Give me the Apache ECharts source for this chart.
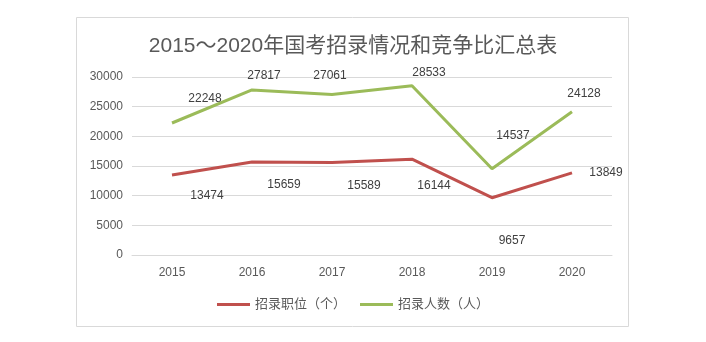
<!DOCTYPE html>
<html><head><meta charset="utf-8">
<script src="https://cdn.jsdelivr.net/npm/echarts@6/dist/echarts.min.js"></script>
<style>html,body{margin:0;padding:0;background:#fff}#c{width:706px;height:342px}</style>
</head><body><div id="c"></div>
<script>
const years = ['2015','2016','2017','2018','2019','2020'];
const positions = [13474, 15659, 15589, 16144, 9657, 13849];
const applicants = [22248, 27817, 27061, 28533, 14537, 24128];
const yTicks = [0, 5000, 10000, 15000, 20000, 25000, 30000];

const redOff = [[35,21],[32,23],[32,23],[22,26],[20,43],[34,0]];
const greenOff = [[33,-24],[12,-14],[-2,-19],[17,-13],[21,-33],[12,-18]];
const font = '"Liberation Sans","Noto Sans CJK SC",sans-serif';
function mk(vals, offs){
  return vals.map((v,i)=>({value:v,label:{offset:offs[i]}}));
}
const chart = echarts.init(document.getElementById('c'));
chart.setOption({
  animation:false,
  graphic:[{type:'rect',shape:{x:76.5,y:17.5,width:552,height:309},style:{fill:'none',stroke:'#d9d9d9',lineWidth:1},silent:true}],
  title:{text:'2015～2020年国考招录情况和竞争比汇总表',left:'center',top:31,
    textStyle:{fontFamily:font,fontSize:21,fontWeight:'normal',color:'#595959'}},
  legend:{bottom:26,left:'center',itemWidth:33,itemHeight:3,itemGap:14,icon:'rect',
    textStyle:{fontFamily:font,fontSize:13,color:'#595959'},
    data:['招录职位（个）','招录人数（人）']},
  grid:{left:132,right:94,top:77,bottom:87},
  xAxis:{type:'category',data:years,boundaryGap:true,
    axisLine:{lineStyle:{color:'#d9d9d9'}},axisTick:{show:false},
    axisLabel:{fontFamily:font,fontSize:12,color:'#595959',margin:12}},
  yAxis:{type:'value',min:yTicks[0],max:yTicks[yTicks.length-1],interval:5000,
    axisLine:{show:false},axisTick:{show:false},
    splitLine:{lineStyle:{color:'#d9d9d9'}},
    axisLabel:{fontFamily:font,fontSize:12,color:'#595959',margin:9,formatter:v=>String(v)}},
  series:[
    {name:'招录职位（个）',type:'line',data:mk(positions,redOff),symbol:'circle',symbolSize:0,showSymbol:true,
      lineStyle:{color:'#c0504d',width:3},itemStyle:{color:'#c0504d'},
      label:{show:true,position:'inside',fontFamily:font,fontSize:12,color:'#404040'}},
    {name:'招录人数（人）',type:'line',data:mk(applicants,greenOff),symbol:'circle',symbolSize:0,showSymbol:true,
      lineStyle:{color:'#9bbb59',width:3},itemStyle:{color:'#9bbb59'},
      label:{show:true,position:'inside',fontFamily:font,fontSize:12,color:'#404040'}}
  ]
});
</script></body></html>
